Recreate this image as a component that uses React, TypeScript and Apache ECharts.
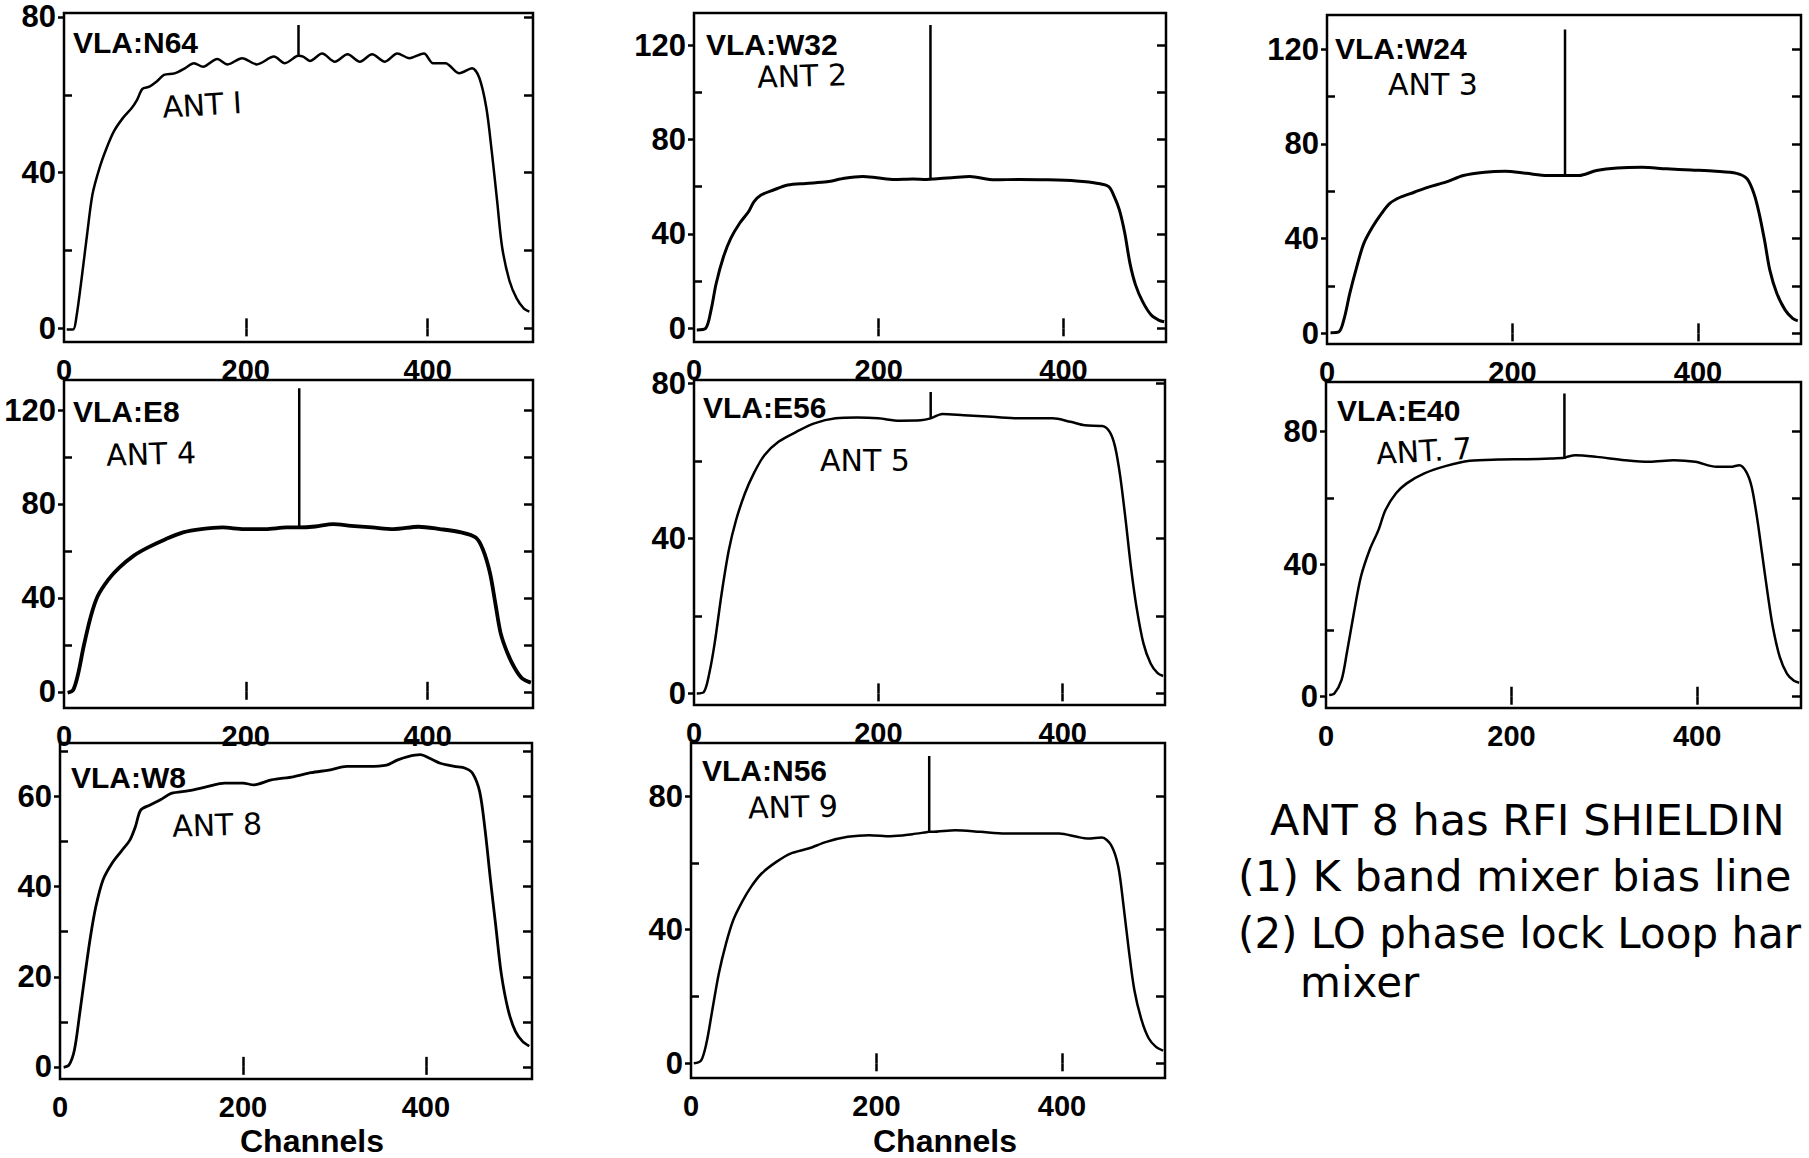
import { useEffect, useRef } from "react";
import * as echarts from "echarts";

// ---- DATA (channel, amplitude) ----
const N64: number[][] = [[3,-0.3],[10,-0.3],[13.7,3],[19.6,13.2],[25.5,24.3],[31.4,34.5],[39.2,41.3],[47,46.4],[54.9,50.6],[64.7,54],[74.5,56.6],[80.4,58.7],[86.3,61.5],[94,62.1],[102,63.4],[110,65.1],[121.6,65.5],[133,66.8],[143,68.1],[153,67.2],[168.6,69.2],[180,67.8],[196,69.4],[212,67.8],[231,69.8],[243,68.1],[255,69.8],[258,70],[263,69.8],[270.6,68.7],[284,70.6],[298,68.5],[312,70.4],[325.5,68.5],[339,70.4],[353,68.5],[366.7,70.6],[380,69.4],[396,70.6],[406,68.1],[419.6,68.1],[435,65.5],[449,66.8],[457,64.3],[464.7,56.6],[470.6,45.5],[476.5,32.8],[482,20.9],[490,12.3],[498,7.7],[506,5.1],[512,4.3]];
const W32: number[][] = [[3,-0.7],[12.7,0],[18.5,7.8],[24,19],[32,30.4],[39.8,38.1],[49.4,44.5],[59,49.4],[65,53.7],[72.6,56.5],[86,58.6],[101.5,60.7],[121,61.4],[144,62.1],[163,63.6],[182.6,64.3],[198,63.8],[217,63.1],[236.7,63.3],[252,63.1],[256,63.2],[260,63.3],[279,63.8],[298.5,64.3],[325.5,62.9],[352.5,63.1],[383,62.9],[414,62.4],[437.5,61.4],[449,60],[455,55.8],[460.6,50.1],[466.4,40.3],[472,27.5],[478,18.4],[485.7,11.3],[495,5.6],[503,3.5],[509,2.8]];
const W24: number[][] = [[3.8,0.3],[13,0.7],[19,7],[24.5,16.8],[32,28],[39.6,37.9],[49,44.9],[58.5,50.5],[68,55],[79,57.5],[94,59.6],[109.4,61.8],[128,63.9],[147,66.7],[170,68.1],[192,68.5],[215,67.6],[237.7,66.7],[254.7,66.7],[256.6,66.7],[260.4,66.7],[271.7,66.7],[290.6,68.8],[313,69.9],[339.6,70.2],[366,69.5],[392.5,69],[419,68.5],[441.5,67.6],[452.8,65.3],[460.4,58.9],[466,50.5],[471.7,39.3],[477.4,26.7],[485,16.8],[494,9.8],[502,6.3],[507.5,5.3]];
const E8: number[][] = [[4,-0.4],[10,0.7],[15.7,7.9],[21.6,19.3],[29.4,32],[37,40.7],[49,47.9],[60.8,52.9],[76.5,57.9],[92,61.4],[111.8,65],[131,67.9],[151,69.3],[174.5,70],[198,69.3],[221.6,69.3],[245,70],[258.8,70],[276.5,70.4],[296,71.4],[315.7,70.7],[339,70],[362.7,69.3],[390,70.3],[413.7,69.3],[437,67.9],[453,65.7],[460.8,60.7],[468.6,50.7],[474.5,37.9],[480.4,25],[488,16.4],[496,10],[504,5.7],[513.7,3.9]];
const E56: number[][] = [[3,0],[10.8,0.4],[16.6,5.2],[22.4,12.9],[30,25.8],[37.8,37],[45.6,44.7],[55.2,51.6],[64.9,56.8],[76.4,61.5],[92,65],[111,67.5],[130.5,69.7],[153.7,71],[177,71.2],[200,71],[223,70.4],[246,70.5],[256.8,71],[269.5,72.1],[292.7,71.8],[323.5,71.4],[354.4,71],[389,71],[408.5,70.1],[424,69.2],[443,69],[451,67.5],[456.8,63.7],[462.5,55.9],[468.3,44.7],[474,32.7],[480,22.4],[487.6,12.9],[495.4,7.7],[503,5.2],[509,4.5]];
const E40: number[][] = [[3.4,0.5],[9,1],[16.7,5],[22.4,13.1],[30,25.2],[37.6,36.2],[47,44.3],[56.5,50.3],[64,56.3],[75.5,61.4],[87,64.4],[106,67.4],[128.7,69.6],[155,71.2],[185.6,71.6],[216,71.7],[242.5,71.9],[257,72.1],[259.6,72.4],[269,72.9],[291.8,72.4],[322,71.4],[348.8,70.9],[375,71.4],[398,70.9],[421,69.4],[436,69.4],[445.5,69.9],[453,67.9],[458.8,63.4],[464.5,54.3],[470,43.3],[476,31.2],[481.6,21.1],[489,12.1],[496.8,7],[504.4,4.8],[510,4.2]];
const W8: number[][] = [[4,-0.1],[9.8,0.4],[15.7,3.7],[21.6,11.9],[27.5,20.7],[33.3,28.9],[39.2,35.6],[47,41.5],[56.9,45.2],[66.7,47.8],[76.5,50.4],[82.4,53.3],[88.2,57],[98,58.1],[109.8,59.3],[121.6,60.7],[141,61.3],[160.8,62.2],[180,63],[200,63],[211.8,62.6],[231,63.7],[255,64.4],[274.5,65.3],[294,65.9],[313.7,66.7],[337,66.7],[357,67],[368.6,68.1],[380.4,68.9],[394,69.3],[404,68.5],[415.7,67.4],[431,66.7],[443,66.3],[451,65.2],[458.8,61.1],[464.7,52.6],[470.6,41.5],[476.5,31.1],[482.4,20.7],[490,12.6],[498,7.8],[505.9,5.6],[513,4.6]];
const N56: number[][] = [[3,0],[10.8,0.8],[16.6,6],[22.4,15],[30,26.9],[37.8,35.9],[45.6,42.9],[55.2,48.4],[64.9,52.9],[76.4,56.9],[92,60.3],[107.3,62.8],[126.6,64.3],[146,66.3],[169,67.8],[192,68.3],[215.4,68],[238.6,68.6],[254,69.2],[256.8,69.3],[259.8,69.3],[285,69.8],[312,69.3],[339,68.8],[370,68.8],[397,68.8],[416,67.8],[427.8,67.3],[443,67.6],[452.9,65.3],[460.6,58.9],[466.4,46.9],[472,33.9],[478,21.9],[485.7,13],[493.4,7.5],[501,5],[509,3.8]];

// narrow interference spike in each panel: [channel, base level, peak level]
const spikeN64 = [258, 70, 77.9];
const spikeW32 = [256, 63.2, 128.5];
const spikeW24 = [256.6, 66.7, 128.4];
const spikeE8 = [258.8, 70, 129.3];
const spikeE56 = [256.8, 71, 77.8];
const spikeE40 = [257, 72.1, 91.5];
const spikeW8: number[] = [];
const spikeN56 = [256.8, 69.3, 92];

const panelData = [N64, W32, W24, E8, E56, E40, W8, N56];
const panelSpikes = [spikeN64, spikeW32, spikeW24, spikeE8, spikeE56, spikeE40, spikeW8, spikeN56];
const panelTitles = ["VLA:N64", "VLA:W32", "VLA:W24", "VLA:E8", "VLA:E56", "VLA:E40", "VLA:W8", "VLA:N56"];
const antLabels = ["ANT I", "ANT 2", "ANT 3", "ANT 4", "ANT 5", "ANT. 7", "ANT 8", "ANT 9"];
const xTickLabels = [0, 200, 400];
const xTicks = [200, 400];
const yTicks80 = [0, 20, 40, 60, 80];
const yTicks120 = [0, 20, 40, 60, 80, 100, 120];
const yTicks70 = [0, 10, 20, 30, 40, 50, 60, 70];
const yLabels80 = [0, 40, 80];
const yLabels120 = [0, 40, 80, 120];
const yLabels60 = [0, 20, 40, 60];
const xAxisTitle = "Channels";
const noteLines = ["ANT 8 has RFI SHIELDIN", "(1) K band mixer bias line", "(2) LO phase lock Loop har", "mixer"];

// ---- LAYOUT / STYLE ----
const FONT = '"Liberation Sans", Arial, Helvetica, sans-serif';
const HAND = '"DejaVu Sans", sans-serif';
const panels = [
  { grid: [64, 13, 469, 329], y: [-3.5, 81], ticks: yTicks80, labels: yLabels80, xMax: 516, xm: 13, title: [73, 42], ant: [202, 105, 0.06], lw: 2.5 },
  { grid: [694, 13, 472, 329], y: [-5.8, 133.6], ticks: yTicks120, labels: yLabels120, xMax: 511, xm: 13, title: [706, 44], ant: [802, 76, 0.03], lw: 3 },
  { grid: [1327, 15, 474, 329], y: [-4.5, 134.5], ticks: yTicks120, labels: yLabels120, xMax: 511, xm: 13, title: [1335, 48], ant: [1433, 84, 0], lw: 3 },
  { grid: [64, 380, 469, 328], y: [-6.9, 132.8], ticks: yTicks120, labels: yLabels120, xMax: 516, xm: 13, title: [73, 411], ant: [151, 454, 0.03], lw: 3.8 },
  { grid: [694, 380, 471, 325], y: [-3.0, 80.9], ticks: yTicks80, labels: yLabels80, xMax: 511, xm: 13, title: [703, 407], ant: [865, 460, 0], lw: 2.5 },
  { grid: [1326, 382, 475, 326], y: [-3.4, 95], ticks: yTicks80, labels: yLabels80, xMax: 512, xm: 13, title: [1337, 410], ant: [1424, 451, 0.06], lw: 2.5 },
  { grid: [60, 743, 472, 336], y: [-2.7, 71.9], ticks: yTicks70, labels: yLabels60, xMax: 516, xm: 13, title: [71, 777], ant: [217, 825, 0.03], lw: 2.8 },
  { grid: [691, 743, 474, 335], y: [-4.4, 95.9], ticks: yTicks80, labels: yLabels80, xMax: 511, xm: 13, title: [702, 770], ant: [793, 807, 0.02], lw: 2.5 },
];
const channelsPos = [[312, 1141], [945, 1141]];
const notePos = [[1270, 820, 43], [1238, 876, 43], [1238, 933, 42], [1300, 982, 42]];

const black = "#000";

function buildOption() {
  const grid: any[] = [];
  const xAxis: any[] = [];
  const yAxis: any[] = [];
  const series: any[] = [];
  const graphic: any[] = [];
  const tickLine = { color: black, width: 2.5 };

  panels.forEach((p, i) => {
    const [l, t, w, h] = p.grid;
    grid.push({ left: l, top: t, width: w, height: h, show: true, borderColor: black, borderWidth: 2.5, backgroundColor: "transparent" });
    const xb = xAxis.length;
    xAxis.push({
      type: "value", gridIndex: i, min: 0, max: p.xMax, position: "bottom",
      axisLine: { show: false }, splitLine: { show: false },
      axisTick: { show: true, inside: true, length: 10, customValues: xTicks, lineStyle: tickLine },
      axisLabel: { customValues: xTickLabels, margin: p.xm, fontSize: 29, fontWeight: "bold", color: black, fontFamily: FONT },
    });
    xAxis.push({
      type: "value", gridIndex: i, min: 0, max: p.xMax, position: "top",
      axisLine: { show: false }, splitLine: { show: false },
      axisTick: { show: true, inside: true, length: 8, customValues: xTicks, lineStyle: tickLine },
      axisLabel: { show: false },
    });
    const ya = yAxis.length;
    const minor = p.ticks.filter((v) => !p.labels.includes(v));
    yAxis.push({
      type: "value", gridIndex: i, min: p.y[0], max: p.y[1], position: "left",
      axisLine: { show: false }, splitLine: { show: false },
      axisTick: { show: true, inside: false, length: 6, customValues: p.labels, lineStyle: tickLine },
      axisLabel: { customValues: p.labels, margin: 8, fontSize: 31, fontWeight: "bold", color: black, fontFamily: FONT },
    });
    yAxis.push({
      type: "value", gridIndex: i, min: p.y[0], max: p.y[1], position: "left",
      axisLine: { show: false }, splitLine: { show: false },
      axisTick: { show: true, inside: true, length: 8, customValues: minor, lineStyle: tickLine },
      axisLabel: { show: false },
    });
    yAxis.push({
      type: "value", gridIndex: i, min: p.y[0], max: p.y[1], position: "right",
      axisLine: { show: false }, splitLine: { show: false },
      axisTick: { show: true, inside: true, length: 9, customValues: p.ticks, lineStyle: tickLine },
      axisLabel: { show: false },
    });
    series.push({
      type: "line", xAxisIndex: xb, yAxisIndex: ya, data: panelData[i],
      showSymbol: false, symbol: "none", silent: true,
      smooth: 0.3,
      lineStyle: { color: black, width: p.lw, join: "round" },
    });
    const s = panelSpikes[i];
    if (s.length === 3) {
      series.push({
        type: "line", xAxisIndex: xb, yAxisIndex: ya, data: [[s[0], s[1]], [s[0], s[2]]],
        showSymbol: false, symbol: "none", silent: true,
        lineStyle: { color: black, width: 2.5 },
      });
    }
    graphic.push({
      type: "text", x: p.title[0], y: p.title[1], silent: true,
      style: { text: panelTitles[i], font: `bold 30px ${FONT}`, fill: black, align: "left", verticalAlign: "middle", textAlign: "left", textVerticalAlign: "middle" },
    });
    graphic.push({
      type: "text", x: p.ant[0], y: p.ant[1], rotation: p.ant[2], silent: true,
      style: { text: antLabels[i], font: `30px ${HAND}`, fill: black, align: "center", verticalAlign: "middle", textAlign: "center", textVerticalAlign: "middle" },
    });
  });

  channelsPos.forEach(([x, y]) => {
    graphic.push({
      type: "text", x, y, silent: true,
      style: { text: xAxisTitle, font: `bold 32px ${FONT}`, fill: black, align: "center", verticalAlign: "middle", textAlign: "center", textVerticalAlign: "middle" },
    });
  });
  noteLines.forEach((line, i) => {
    const [x, y, fs] = notePos[i];
    graphic.push({
      type: "text", x, y, silent: true,
      style: { text: line, font: `${fs}px ${HAND}`, fill: black, align: "left", verticalAlign: "middle", textAlign: "left", textVerticalAlign: "middle" },
    });
  });

  return { animation: false, backgroundColor: "#fff", grid, xAxis, yAxis, series, graphic };
}

export default function App() {
  const ref = useRef<HTMLDivElement>(null);
  useEffect(() => {
    document.body.style.margin = "0";
    document.body.style.overflow = "hidden";
    if (!ref.current) return;
    const chart = echarts.init(ref.current, undefined, { renderer: "svg" });
    chart.setOption(buildOption() as any);
    return () => chart.dispose();
  }, []);
  return <div ref={ref} style={{ width: 1809, height: 1158, background: "#fff" }} />;
}
